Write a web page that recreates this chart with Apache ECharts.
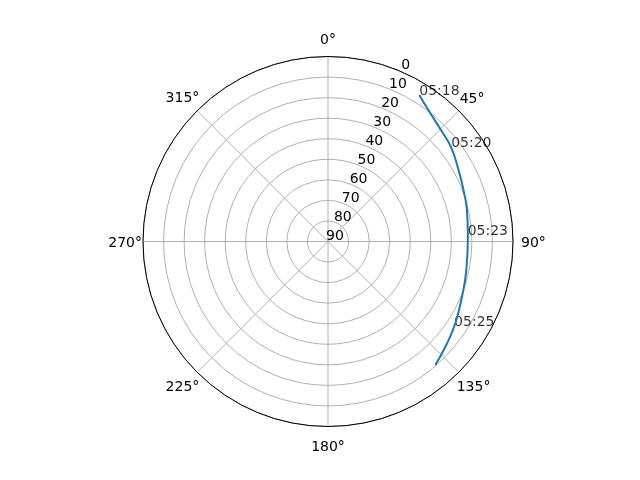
<!DOCTYPE html>
<html>
<head>
<meta charset="utf-8">
<script src="https://cdn.jsdelivr.net/npm/echarts@6/dist/echarts.min.js"></script>
<style>
html,body{margin:0;padding:0;background:#fff;}
#chart{width:640px;height:480px;}
</style>
</head>
<body>
<div id="chart"></div>
<script>
// satellite pass: azimuth (deg) and elevation (deg)
var azimuth=[31.9,38.6,46.1,52.6,61.3,69.2,77.2,88.0,101.6,112.4,122.7,130.5,139.0];
var elevation=[6.0,10.2,13.0,14.6,17.6,19.5,20.7,21.9,21.3,19.5,16.4,13.8,10.4];
// time marks along the track
var markTimes=['05:18','05:20','05:23','05:25'];
var markAz=[31.9,52.6,87.5,124.0];
var markEl=[6.0,14.6,22.0,16.0];

var font='DejaVu Sans';
var myChart=echarts.init(document.getElementById('chart'));

var trackData=azimuth.map(function(a,i){return [elevation[i],a];});
var markData=markAz.map(function(a,i){return {value:[markEl[i],a],name:markTimes[i]};});

//echarts aligns angle labels outward, so pad each one to sit centred on a ring
var anglePad={
	a0:[0,0,12,0], a45:[0,0,6,3], a90:[4,0,0,11], a135:[10,0,0,0],
	a180:[17,0,0,0], a225:[10,0,0,0], a270:[4,4,0,0], a315:[0,0,7,0]
};
var angleRich={};
Object.keys(anglePad).forEach(function(k){
	angleRich[k]={padding:anglePad[k],color:'#000',fontFamily:font,fontSize:14};
});

var option={
	animation:false,
	polar:[
		{center:[328,241.5],radius:185},
		//only carries the radial tick labels, nudged off the 22.5deg line
		{center:[335,236],radius:185}
	],
	angleAxis:[{
		polarIndex:0,
		type:'value',
		min:0,max:360,interval:45,
		startAngle:90,clockwise:true,
		axisLine:{lineStyle:{color:'#000',width:1}},
		axisTick:{show:false},
		axisLabel:{
			margin:-3,
			color:'#000',fontFamily:font,fontSize:14,
			formatter:function(v){return v===360?'':'{a'+v+'|'+v+'°}';},
			rich:angleRich
		},
		splitLine:{lineStyle:{color:'#b0b0b0',width:1}}
	},{
		polarIndex:1,
		type:'value',min:0,max:360,
		startAngle:67.5,clockwise:true,
		show:false
	}],
	radiusAxis:[{
		polarIndex:0,
		type:'value',min:0,max:90,interval:10,inverse:true,
		axisLine:{show:false},axisTick:{show:false},axisLabel:{show:false},
		splitLine:{lineStyle:{color:'#b0b0b0',width:1}}
	},{
		polarIndex:1,
		type:'value',min:0,max:90,interval:10,inverse:true,
		axisLine:{show:false},axisTick:{show:false},splitLine:{show:false},
		axisLabel:{
			margin:0,align:'center',verticalAlign:'middle',
			color:'#000',fontFamily:font,fontSize:14
		}
	}],
	series:[{
		type:'line',
		coordinateSystem:'polar',
		polarIndex:0,
		data:trackData,
		smooth:true,
		showSymbol:false,
		lineStyle:{color:'#1f77b4',width:2}
	},{
		type:'scatter',
		coordinateSystem:'polar',
		polarIndex:0,
		data:markData,
		symbolSize:0,
		label:{
			show:true,position:[0,0],offset:[0,3],align:'left',verticalAlign:'bottom',
			formatter:'{b}',color:'#000',fontFamily:font,fontSize:14
		}
	}]
};
myChart.setOption(option);
</script>
</body>
</html>
